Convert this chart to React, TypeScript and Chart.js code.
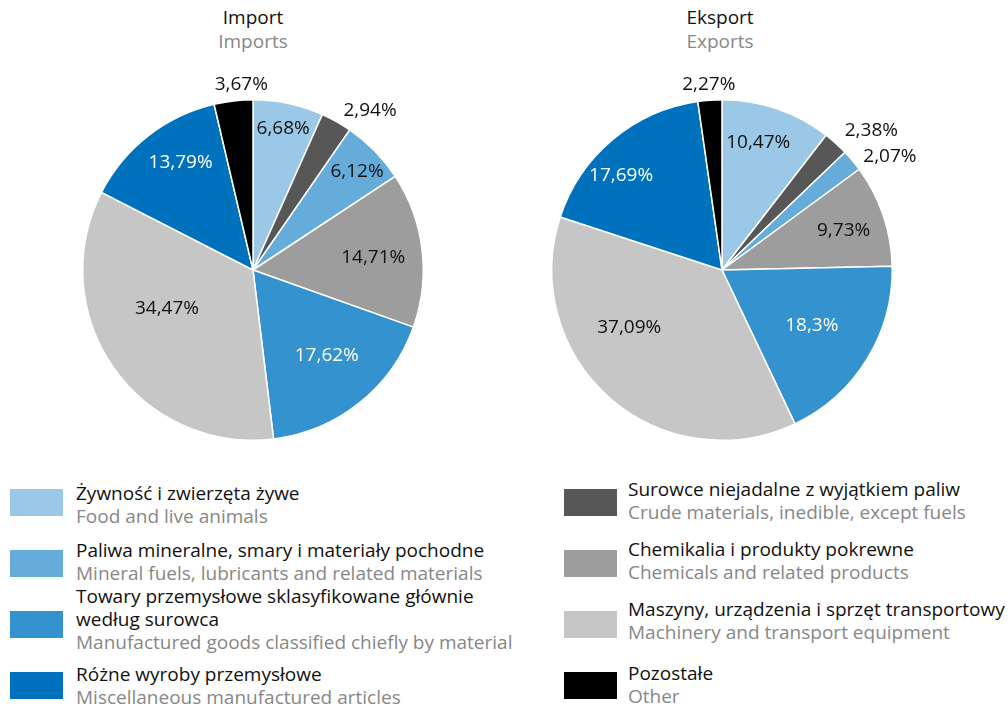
import React, { useEffect, useRef } from "react";
import { Chart, registerables } from "chart.js";

Chart.register(...registerables);

const categoriesPL = [
  "Żywność i zwierzęta żywe",
  "Surowce niejadalne z wyjątkiem paliw",
  "Paliwa mineralne, smary i materiały pochodne",
  "Chemikalia i produkty pokrewne",
  "Towary przemysłowe sklasyfikowane głównie\nwedług surowca",
  "Maszyny, urządzenia i sprzęt transportowy",
  "Różne wyroby przemysłowe",
  "Pozostałe",
];
const categoriesEN = [
  "Food and live animals",
  "Crude materials, inedible, except fuels",
  "Mineral fuels, lubricants and related materials",
  "Chemicals and related products",
  "Manufactured goods classified chiefly by material",
  "Machinery and transport equipment",
  "Miscellaneous manufactured articles",
  "Other",
];
const importValues = [6.68, 2.94, 6.12, 14.71, 17.62, 34.47, 13.79, 3.67];
const exportValues = [10.47, 2.38, 2.07, 9.73, 18.3, 37.09, 17.69, 2.27];
const importLabels = ["6,68%", "2,94%", "6,12%", "14,71%", "17,62%", "34,47%", "13,79%", "3,67%"];
const exportLabels = ["10,47%", "2,38%", "2,07%", "9,73%", "18,3%", "37,09%", "17,69%", "2,27%"];

const colors = ["#9BC8E6", "#575757", "#66ACDA", "#9D9D9D", "#3492CE", "#C6C6C6", "#0071BC", "#000000"];
const labelColors = ["#111", "#111", "#111", "#111", "#fff", "#111", "#fff", "#111"];

// label placement: [radius factor, angle offset in degrees]
const importLabelLayout: [number, number][] = [
  [0.85, 0], [1.16, 7], [0.84, 1], [0.71, 1], [0.665, -2], [0.555, 10.5], [0.76, 4], [1.09, 3],
];
const exportLabelLayout: [number, number][] = [
  [0.78, -3], [1.2, 5], [1.19, 6], [0.75, 1], [0.62, 0], [0.64, 17], [0.81, -7], [1.09, 0],
];

const FONT = "'Open Sans', sans-serif";

function makeLabelPlugin(labels: string[], layout: [number, number][]) {
  return {
    id: "sliceLabels",
    afterDatasetsDraw(chart: any) {
      const ctx = chart.ctx;
      const meta = chart.getDatasetMeta(0);
      ctx.save();
      ctx.font = `19px ${FONT}`;
      ctx.textAlign = "center";
      ctx.textBaseline = "middle";
      meta.data.forEach((arc: any, i: number) => {
        const { x, y, startAngle, endAngle, outerRadius } = arc.getProps(
          ["x", "y", "startAngle", "endAngle", "outerRadius"],
          true
        );
        const [rf, off] = layout[i];
        const a = (startAngle + endAngle) / 2 + (off * Math.PI) / 180;
        const r = outerRadius * rf;
        ctx.fillStyle = labelColors[i];
        ctx.fillText(labels[i], x + Math.cos(a) * r, y + Math.sin(a) * r);
      });
      ctx.restore();
    },
  };
}

function PieChart({ values, labels, layout, left, top }: any) {
  const ref = useRef<HTMLCanvasElement>(null);
  useEffect(() => {
    if (!ref.current) return;
    const chart = new Chart(ref.current, {
      type: "pie",
      data: {
        labels: categoriesEN,
        datasets: [
          {
            data: values,
            backgroundColor: colors,
            borderColor: "#ffffff",
            borderWidth: 1.5,
          },
        ],
      },
      options: {
        animation: false,
        responsive: false,
        maintainAspectRatio: false,
        layout: { padding: 29 },
        plugins: { legend: { display: false }, tooltip: { enabled: false } },
      },
      plugins: [makeLabelPlugin(labels, layout)],
    });
    return () => chart.destroy();
  }, []);
  return (
    <canvas
      ref={ref}
      width={400}
      height={400}
      style={{ position: "absolute", left, top, width: 400, height: 400 }}
    />
  );
}

const legendLeft = [0, 2, 4, 6];
const legendRight = [1, 3, 5, 7];
const leftTextTops = [482, 539, 585, 663];
const rightTextTops = [478, 538, 598, 662];
const boxTops = [489, 550, 611, 672];

function LegendItem({ idx, boxLeft, textLeft, boxTop, textTop }: any) {
  return (
    <>
      <div
        style={{
          position: "absolute",
          left: boxLeft,
          top: boxTop,
          width: 53,
          height: 27,
          background: colors[idx],
        }}
      />
      <div
        style={{
          position: "absolute",
          left: textLeft,
          top: textTop,
          fontFamily: FONT,
          fontSize: 19,
          lineHeight: "23px",
          whiteSpace: "pre-line",
        }}
      >
        <div style={{ color: "#111" }}>{categoriesPL[idx]}</div>
        <div style={{ color: "#878787" }}>{categoriesEN[idx]}</div>
      </div>
    </>
  );
}

export default function App() {
  return (
    <div
      style={{
        position: "absolute",
        left: 0,
        top: 0,
        width: 1008,
        height: 709,
        background: "#fff",
        overflow: "hidden",
      }}
    >
      <div style={{ position: "absolute", left: 153, width: 200, top: 5, textAlign: "center", fontFamily: FONT, fontSize: 19, lineHeight: "24px" }}>
        <div style={{ color: "#111" }}>Import</div>
        <div style={{ color: "#878787" }}>Imports</div>
      </div>
      <div style={{ position: "absolute", left: 620, width: 200, top: 5, textAlign: "center", fontFamily: FONT, fontSize: 19, lineHeight: "24px" }}>
        <div style={{ color: "#111" }}>Eksport</div>
        <div style={{ color: "#878787" }}>Exports</div>
      </div>
      <PieChart values={importValues} labels={importLabels} layout={importLabelLayout} left={53} top={70} />
      <PieChart values={exportValues} labels={exportLabels} layout={exportLabelLayout} left={522} top={70} />
      {legendLeft.map((idx, k) => (
        <LegendItem key={"l" + idx} idx={idx} boxLeft={10} textLeft={76} boxTop={boxTops[k]} textTop={leftTextTops[k]} />
      ))}
      {legendRight.map((idx, k) => (
        <LegendItem key={"r" + idx} idx={idx} boxLeft={564} textLeft={628} boxTop={boxTops[k]} textTop={rightTextTops[k]} />
      ))}
    </div>
  );
}
